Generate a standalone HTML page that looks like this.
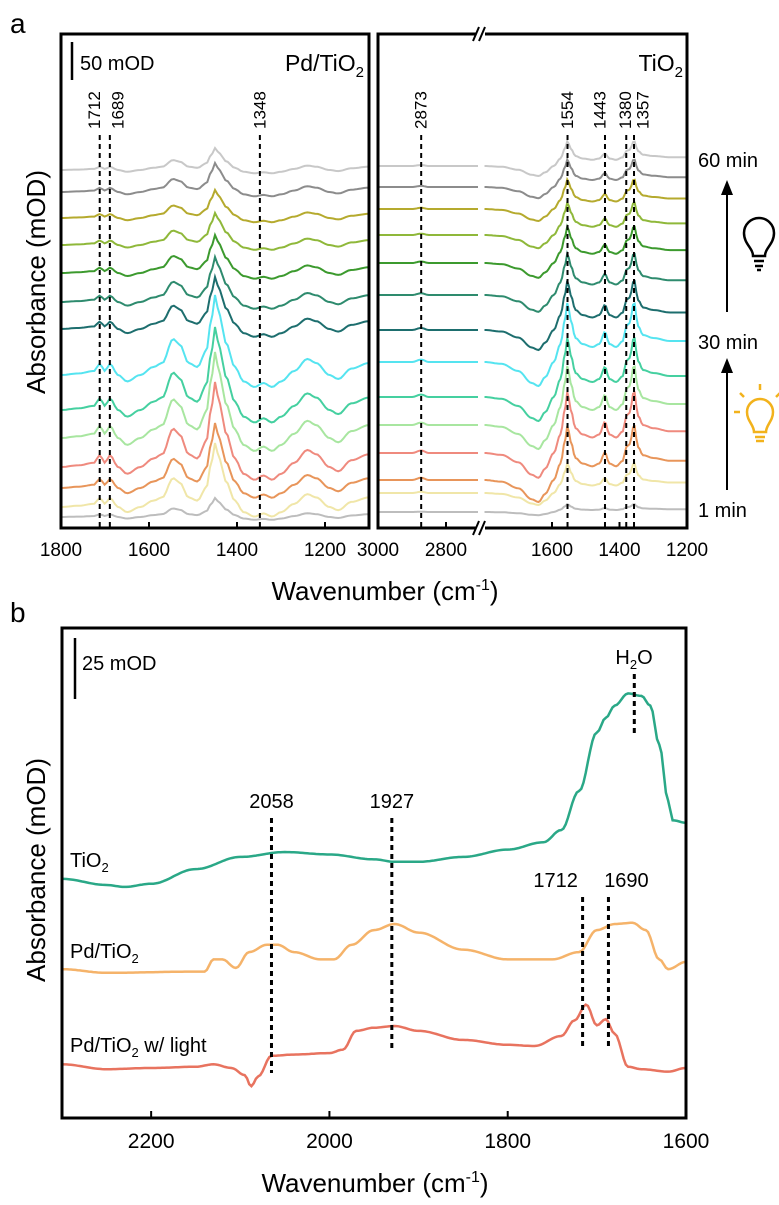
<!DOCTYPE html>
<html><head><meta charset="utf-8">
<style>
html,body{margin:0;padding:0;background:#fff;}
svg{display:block;font-family:"Liberation Sans",Arial,sans-serif;}
</style></head>
<body>
<svg id="fig" width="779" height="1205" viewBox="0 0 779 1205" xmlns="http://www.w3.org/2000/svg">
  <text x="10" y="33" font-size="28">a</text>
  <text x="10" y="622" font-size="28">b</text>
  <g id="pa"></g>
  <g id="pb"></g>
</svg>
<script>
// ===== Panel a data =====
const aColors = ['#c8c8c8','#8c8c8c','#b5aa2e','#8fb83a','#3c9a2e','#2e8b6e','#1d6e6e','#55e4f0','#45d0a0','#a8e6a0','#ef8a7e','#e8955a','#f0e6a8','#bdbdbd'];
const aLeftBase = [170,192,218,245,273,302,329,375,410,438,467,488,507,517];
const aRightBase = [166,187,209,235,263,295,330,362,397,425,453,480,493,512];
const aLeftPeak = [22,29,28,32,38,45,52,80,83,86,85,65,64,19];
const aRightPeak = [25,28,30,33,37,42,50,60,60,60,62,55,30,8];
const pdShapeWn = [1800,1760,1725,1712,1700,1689,1670,1650,1620,1590,1570,1545,1530,1510,1490,1470,1458,1450,1440,1425,1405,1385,1360,1340,1320,1300,1270,1240,1220,1190,1170,1140,1100];
const pdShapeVal = [0,0.02,0.05,0.14,0.05,0.14,0,-0.08,0,0.1,0.15,0.45,0.38,0.15,0.1,0.3,0.7,1.0,0.75,0.4,0.1,-0.08,-0.15,-0.1,-0.15,-0.08,0.05,0.2,0.15,0,-0.05,0.08,0.15];
const tiHighWn = [3000,2900,2873,2850,2706];
const tiHighVal = [0,0,0.04,0,0];
const tiLowWn = [1800,1750,1700,1660,1640,1620,1595,1575,1560,1554,1545,1530,1510,1480,1460,1443,1430,1410,1390,1380,1370,1357,1345,1330,1300,1250,1200];
const tiLowVal = [0,-0.03,-0.15,-0.35,-0.4,-0.25,0,0.3,0.75,1.0,0.7,0.4,0.3,0.25,0.3,0.5,0.3,0.25,0.35,0.6,0.65,1.0,0.6,0.45,0.4,0.35,0.35];
const aLeftTicks = [1800,1600,1400,1200];
const aRightTicksHigh = [3000,2800];
const aRightTicksLow = [1600,1400,1200];
const aLeftMarks = ['1712','1689','1348'];
const aRightMarksHigh = ['2873'];
const aRightMarksLow = ['1554','1443','1380','1357'];

// ===== Panel b data =====
const bTiWn = [2300,2250,2230,2200,2150,2100,2050,2000,1950,1927,1900,1850,1800,1760,1740,1720,1700,1690,1680,1665,1650,1640,1630,1620,1615,1600];
const bTiVal = [98,95.5,94.7,96,102,107,109,108,106,105,105,107,110,113,118,134,158,164,169,174,173,169,153,130,122,121];
const bPdWn = [2300,2250,2150,2140,2130,2120,2105,2090,2070,2058,2040,2010,1995,1975,1950,1927,1900,1850,1800,1750,1720,1700,1680,1660,1645,1630,1620,1600];
const bPdVal = [61,59.5,60,60,65,65,61.5,68,71,71,68,65,65,71,77,79.5,76,69,65,65,68,77,79.5,80,77,65,61,64];
const bLightWn = [2300,2250,2200,2150,2130,2110,2095,2088,2080,2065,2040,2000,1985,1970,1950,1927,1900,1850,1800,1770,1740,1725,1712,1700,1690,1680,1665,1650,1620,1600];
const bLightVal = [22,20,20.5,21,22,20.5,17.6,13,17,25.5,26,26.6,28,35.7,37,37.7,35.7,32,30,29.5,33.6,40,46.5,38,40.5,34.5,21,20,19,20.5];
const bTicks = [2200,2000,1800,1600];
const bMarks = ['2058','1927','1712','1690'];
const bMarkPos = [2065,1930,1716,1687];

const NS='http://www.w3.org/2000/svg';
function mk(parent,tag,attrs){const e=document.createElementNS(NS,tag);for(const k in attrs)e.setAttribute(k,attrs[k]);parent.appendChild(e);return e;}
function interp(wns,vals,w){for(let i=0;i<wns.length-1;i++){const a=wns[i],b=wns[i+1];if((w<=a&&w>=b)){const t=(a-w)/(a-b);const s=(1-Math.cos(Math.PI*t))/2;return vals[i]+(vals[i+1]-vals[i])*s;}}return vals[vals.length-1];}

// ---- Panel a ----
const pa=document.getElementById('pa');
const LX0=61,LX1=369,RX0=378,RX1=687,AT=34,AB=528;
const xL=w=>LX0+(1800-w)*(LX1-LX0)/700;
const xRH=w=>RX0+(3000-w)*0.34;
const xRL=w=>552+(1600-w)*0.3375;

function curveA(fnX,wns,vals,w0,w1,base,amp){
  let d='';const n=120;
  for(let i=0;i<=n;i++){const w=w0-(w0-w1)*i/n;let v=interp(wns,vals,w);const y=base-amp*v;d+=(i?'L':'M')+fnX(w).toFixed(1)+' '+y.toFixed(1);}
  return d;
}
for(let i=0;i<aColors.length;i++){
  const p=mk(pa,'path',{d:curveA(xL,pdShapeWn,pdShapeVal,1800,1100,aLeftBase[i],aLeftPeak[i]),fill:'none',stroke:aColors[i],'stroke-width':2});
  
  
  const p2=mk(pa,'path',{d:curveA(xRH,tiHighWn,tiHighVal,3000,2706,aRightBase[i],aRightPeak[i]),fill:'none',stroke:aColors[i],'stroke-width':2});
  
  
  const p3=mk(pa,'path',{d:curveA(xRL,tiLowWn,tiLowVal,1800,1200,aRightBase[i],aRightPeak[i]),fill:'none',stroke:aColors[i],'stroke-width':2});
  
  
}
function dashV(parent,x,y0,y1,w,name){const l=mk(parent,'line',{x1:x,x2:x,y1:y0,y2:y1,stroke:'#000','stroke-width':w,'stroke-dasharray':'5,4'});}
function vlabel(parent,x,y,t,name){const e=mk(parent,'text',{x:x,y:y,'font-size':17,transform:`rotate(-90 ${x} ${y})`,'dominant-baseline':'central'});e.textContent=t;}
const aLeftLabDx=[-5,8,0];
const aRightLabDx=[0,-5,-1,9];
aLeftMarks.forEach((m,i)=>{const x=xL(+m);dashV(pa,x,135,528,2,'marker-line-'+m);vlabel(pa,x+aLeftLabDx[i],129,m,'marker-label-'+m);});
aRightMarksHigh.forEach(m=>{const x=xRH(+m);dashV(pa,x,135,528,2,'marker-line-'+m);vlabel(pa,x,129,m,'marker-label-'+m);});
aRightMarksLow.forEach((m,i)=>{const x=xRL(+m);dashV(pa,x,135,528,2,'marker-line-'+m);vlabel(pa,x+aRightLabDx[i],129,m,'marker-label-'+m);});
// frames
let f=mk(pa,'rect',{x:LX0,y:AT,width:LX1-LX0,height:AB-AT,fill:'none',stroke:'#000','stroke-width':3});

f=mk(pa,'rect',{x:RX0,y:AT,width:RX1-RX0,height:AB-AT,fill:'none',stroke:'#000','stroke-width':3});

[AT,AB].forEach((y,k)=>{const g=mk(pa,'g',{});
  mk(g,'rect',{x:476,y:y-4,width:9,height:8,fill:'#fff'});
  mk(g,'line',{x1:473,y1:y+7,x2:479,y2:y-7,stroke:'#000','stroke-width':2});
  mk(g,'line',{x1:479,y1:y+7,x2:485,y2:y-7,stroke:'#000','stroke-width':2});});
function tickLab(parent,x,ybase,t,name,fs){const e=mk(parent,'text',{x:x,y:ybase,'font-size':fs,'text-anchor':'middle'});e.textContent=t;}
aLeftTicks.forEach(t=>{const x=xL(t);mk(pa,'line',{x1:x,x2:x,y1:AB,y2:AB-6,stroke:'#000','stroke-width':2});tickLab(pa,x,556,String(t),'left-x-tick-'+t,19);});
aRightTicksHigh.forEach(t=>{const x=xRH(t);mk(pa,'line',{x1:x,x2:x,y1:AB,y2:AB-6,stroke:'#000','stroke-width':2});tickLab(pa,x,556,String(t),'right-x-tick-'+t,19);});
aRightTicksLow.forEach(t=>{const x=xRL(t);mk(pa,'line',{x1:x,x2:x,y1:AB,y2:AB-6,stroke:'#000','stroke-width':2});tickLab(pa,x,556,String(t),'right-x-tick-'+t,19);});

// ---- Panel b ----
const pb=document.getElementById('pb');
const BX0=62,BX1=686,BT=628,BB=1118;
const xb=w=>BX0+(2300-w)*(BX1-BX0)/700;
const yb=v=>BB-v*2.44;
function curveB(wns,vals){let d='';const n=280;for(let i=0;i<=n;i++){const w=2300-700*i/n;d+=(i?'L':'M')+xb(w).toFixed(1)+' '+yb(interp(wns,vals,w)).toFixed(1);}return d;}
let c=mk(pb,'path',{d:curveB(bTiWn,bTiVal),fill:'none',stroke:'#2aa887','stroke-width':2.5});

c=mk(pb,'path',{d:curveB(bPdWn,bPdVal),fill:'none',stroke:'#f5b36a','stroke-width':2.5});

c=mk(pb,'path',{d:curveB(bLightWn,bLightVal),fill:'none',stroke:'#e8735f','stroke-width':2.5});

const bMarkY=[[818,1073,801],[818,1051,801],[897,1049,880],[897,1047,880]];
const bLabDx=[0,0,-27,18];
bMarks.forEach((m,i)=>{const x=xb(bMarkPos[i]);dashV(pb,x,bMarkY[i][0],bMarkY[i][1],3,'b-marker-line-'+m);
  const t=mk(pb,'text',{x:x+bLabDx[i],y:bMarkY[i][2]+7,'font-size':20,'text-anchor':'middle'});t.textContent=m;});
dashV(pb,xb(1658),674,735,3,'h2o-marker-line');
f=mk(pb,'rect',{x:BX0,y:BT,width:BX1-BX0,height:BB-BT,fill:'none',stroke:'#000','stroke-width':3});

bTicks.forEach(t=>{const x=xb(t);mk(pb,'line',{x1:x,x2:x,y1:BB,y2:BB-7,stroke:'#000','stroke-width':2});tickLab(pb,x,1148,String(t),'b-x-tick-'+t,21);});
</script>
<svg style="position:absolute;left:0;top:0" width="779" height="1205" xmlns="http://www.w3.org/2000/svg" font-family="Liberation Sans, Arial, sans-serif">
  <line x1="72" y1="42" x2="72" y2="80" stroke="#000" stroke-width="2.5"/>
  <text x="80" y="70" font-size="20">50 mOD</text>
  <text x="364" y="71" font-size="23" text-anchor="end">Pd/TiO<tspan font-size="15" dy="6">2</tspan></text>
  <text x="683" y="71" font-size="23" text-anchor="end">TiO<tspan font-size="15" dy="6">2</tspan></text>
  <text x="36" y="282" font-size="26" text-anchor="middle" transform="rotate(-90 36 282)" dominant-baseline="central">Absorbance (mOD)</text>
  <text x="385" y="600" font-size="26" text-anchor="middle">Wavenumber (cm<tspan font-size="16" dy="-10">-1</tspan><tspan dy="10">)</tspan></text>
  <text x="698" y="167" font-size="20">60 min</text>
  <text x="698" y="349" font-size="20">30 min</text>
  <text x="698" y="517" font-size="20">1 min</text>
  <line x1="727" y1="312" x2="727" y2="190" stroke="#000" stroke-width="2"/>
  <polygon points="727,180 721,195 733,195" fill="#000"/>
  <line x1="727" y1="490" x2="727" y2="368" stroke="#000" stroke-width="2"/>
  <polygon points="727,358 721,373 733,373" fill="#000"/>
  <g fill="none" stroke="#000" stroke-width="2.5">
    <path d="M753,256 C753,248 744,244 744,233 A15,15 0 1 1 774,233 C774,244 765,248 765,256 Z"/>
    <line x1="754" y1="261" x2="764" y2="261"/><line x1="755" y1="266" x2="763" y2="266"/><line x1="757" y1="270" x2="761" y2="270"/>
  </g>
  <g fill="none" stroke="#f2b21c" stroke-width="2.5">
    <path d="M754,432 C754,425 747,421 747,412 A13,13 0 1 1 773,412 C773,421 766,425 766,432 Z"/>
    <line x1="755" y1="437" x2="765" y2="437"/><line x1="756" y1="441" x2="764" y2="441"/>
    <line x1="760" y1="390" x2="760" y2="384"/><line x1="744" y1="397" x2="740" y2="393"/><line x1="776" y1="397" x2="780" y2="393"/><line x1="740" y1="412" x2="734" y2="412"/>
  </g>
  <line x1="75" y1="638" x2="75" y2="699" stroke="#000" stroke-width="2.5"/>
  <text x="82" y="670" font-size="20">25 mOD</text>
  <text x="634" y="664" font-size="20" text-anchor="middle">H<tspan font-size="13" dy="5">2</tspan><tspan dy="-5">O</tspan></text>
  <text x="70" y="867" font-size="20">TiO<tspan font-size="13" dy="5">2</tspan></text>
  <text x="70" y="958" font-size="20">Pd/TiO<tspan font-size="13" dy="5">2</tspan></text>
  <text x="70" y="1052" font-size="20">Pd/TiO<tspan font-size="13" dy="5">2</tspan><tspan dy="-5"> w/ light</tspan></text>
  <text x="36" y="870" font-size="26" text-anchor="middle" transform="rotate(-90 36 870)" dominant-baseline="central">Absorbance (mOD)</text>
  <text x="375" y="1192" font-size="26" text-anchor="middle">Wavenumber (cm<tspan font-size="16" dy="-10">-1</tspan><tspan dy="10">)</tspan></text>
</svg>
</body></html>
